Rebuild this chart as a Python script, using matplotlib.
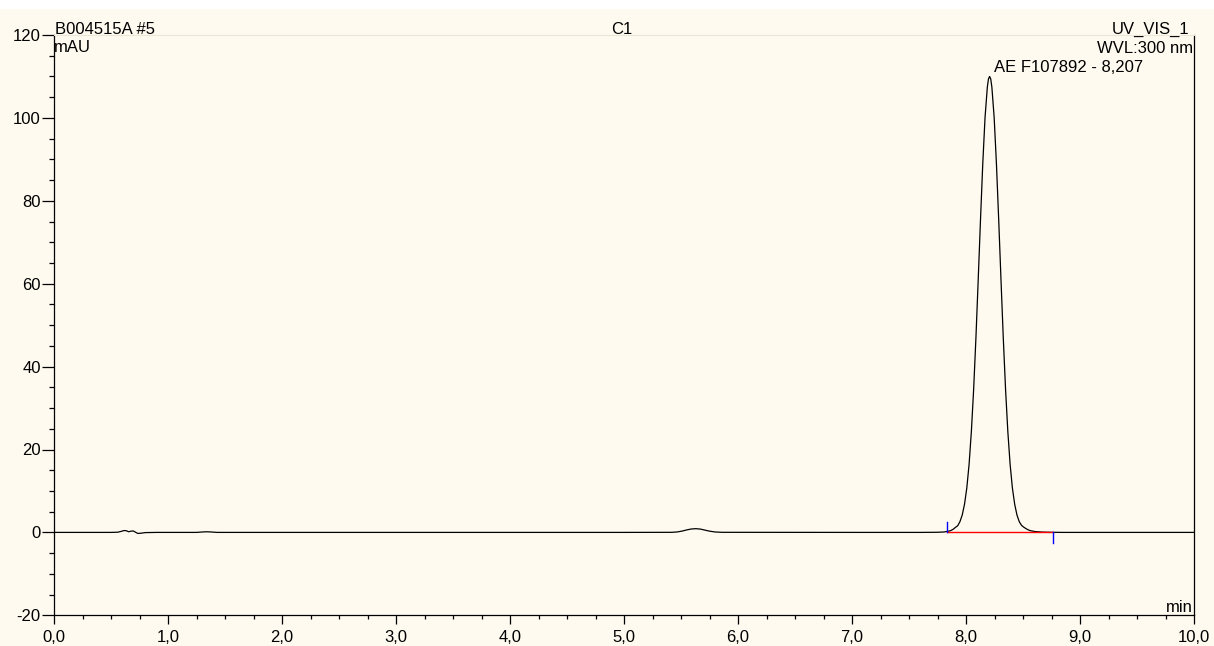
import matplotlib
matplotlib.use("Agg")
import matplotlib.pyplot as plt
from matplotlib.ticker import MultipleLocator, FuncFormatter
from matplotlib.patches import Rectangle

# ---------------- data ----------------
# baseline / small bumps
base_time = [0.00, 0.50, 0.56, 0.59, 0.615, 0.635, 0.655, 0.675, 0.695, 0.715,
             0.735, 0.76, 0.80, 0.90, 1.25, 1.30, 1.34, 1.38, 1.43, 2.50,
             4.00, 5.00, 5.42, 5.47, 5.51, 5.55, 5.59, 5.63, 5.67, 5.71,
             5.75, 5.80, 5.86, 7.00, 7.60, 7.70]
base_signal = [0.00, 0.00, 0.05, 0.25, 0.45, 0.40, 0.15, 0.30, 0.35, 0.05,
               -0.25, -0.20, -0.05, 0.00, 0.00, 0.10, 0.15, 0.10, 0.00, 0.00,
               0.00, 0.00, 0.02, 0.12, 0.32, 0.60, 0.82, 0.90, 0.80, 0.55,
               0.30, 0.10, 0.02, 0.00, 0.00, 0.02]

# main peak (AE F107892, RT 8.207 min)
peak_time = [7.747, 7.807, 7.847, 7.867, 7.887, 7.907, 7.927, 7.947, 7.967,
             7.987, 8.007, 8.027, 8.047, 8.067, 8.087, 8.107, 8.127, 8.147,
             8.167, 8.187, 8.197, 8.207, 8.217, 8.227, 8.247, 8.267, 8.287,
             8.307, 8.327, 8.347, 8.367, 8.387, 8.407, 8.427, 8.447, 8.467,
             8.487, 8.507, 8.527, 8.547, 8.567, 8.607, 8.667, 8.757, 8.850,
             9.000, 9.500, 10.000]
peak_signal = [0.03, 0.10, 0.30, 0.45, 0.75, 1.20, 1.60, 2.60, 4.20,
               6.80, 10.70, 16.40, 24.30, 34.50, 46.90, 60.90, 75.30, 88.90,
               100.10, 107.40, 109.40, 110.00, 109.40, 107.40, 100.10, 88.90, 75.30,
               60.90, 46.90, 34.50, 24.30, 16.40, 10.70, 6.80, 4.20, 2.60,
               1.70, 1.25, 0.90, 0.60, 0.40, 0.20, 0.08, 0.02, 0.00,
               0.00, 0.00, 0.00]

baseline_start, baseline_end = 7.83, 8.763
peak_label = "AE F107892 - 8,207"

x_ticks = [0, 1, 2, 3, 4, 5, 6, 7, 8, 9, 10]
y_ticks = [-20, 0, 20, 40, 60, 80, 100, 120]

# ---------------- figure ----------------
W, H = 1214, 646
bg = "#FEFAEF"
plt.rcParams['font.family'] = ['Liberation Sans', 'DejaVu Sans']
fig = plt.figure(figsize=(W / 100, H / 100), dpi=100, facecolor=bg)
fig.patches.append(Rectangle((0, 1 - 9 / H), 1, 9 / H, transform=fig.transFigure,
                             facecolor="white", edgecolor="none", zorder=0))

L, R, T, B = 54, 1194, 35, 615.3
ax = fig.add_axes([L / W, 1 - B / H, (R - L) / W, (B - T) / H])
ax.set_facecolor(bg)

time = base_time + peak_time
signal = base_signal + peak_signal
ax.plot(time, signal, color="black", lw=0.9, zorder=3)

# integration baseline and delimiters
ax.plot([baseline_start, baseline_end], [0, 0], color="#ff0000", lw=1.0, zorder=4)
ax.plot([baseline_start, baseline_start], [0, 2.5], color="#0000ff", lw=1.0, zorder=4)
ax.plot([baseline_end, baseline_end], [0, -2.5], color="#0000ff", lw=1.0, zorder=4)

ax.set_xlim(0, 10)
ax.set_ylim(-20, 120)
ax.set_xticks(x_ticks)
ax.set_yticks(y_ticks)
ax.xaxis.set_minor_locator(MultipleLocator(0.25))
ax.yaxis.set_minor_locator(MultipleLocator(5))
ax.xaxis.set_major_formatter(FuncFormatter(lambda v, p: f"{v:.1f}".replace(".", ",")))
ax.yaxis.set_major_formatter(FuncFormatter(lambda v, p: f"{int(v)}"))

ax.tick_params(axis="x", which="major", direction="out", length=6.3, width=0.9,
               labelsize=12, pad=4)
ax.tick_params(axis="x", which="minor", direction="out", length=3.0, width=0.9)
ax.tick_params(axis="y", which="major", direction="out", length=8.5, width=0.9,
               labelsize=12, pad=1)
ax.tick_params(axis="y", which="minor", direction="out", length=3.6, width=0.9)

for s in ["left", "bottom", "right"]:
    ax.spines[s].set_color("black")
    ax.spines[s].set_linewidth(0.9)
ax.spines["top"].set_color("#ECE6D6")
ax.spines["top"].set_linewidth(0.8)

def ft(x, y, s, ha="left"):
    fig.text(x / W, 1 - y / H, s, ha=ha, va="baseline", fontsize=12, color="black")

ft(55, 33.5, "B004515A #5")
ft(54, 52.5, "mAU")
ft(622, 33.5, "C1", ha="center")
ft(1189, 33.5, "UV_VIS_1", ha="right")
ft(1193, 53, "WVL:300 nm", ha="right")
ft(994, 72.5, peak_label)
ft(1193, 611.5, "min", ha="right")

fig.savefig("out.png", dpi=100, facecolor=bg)
